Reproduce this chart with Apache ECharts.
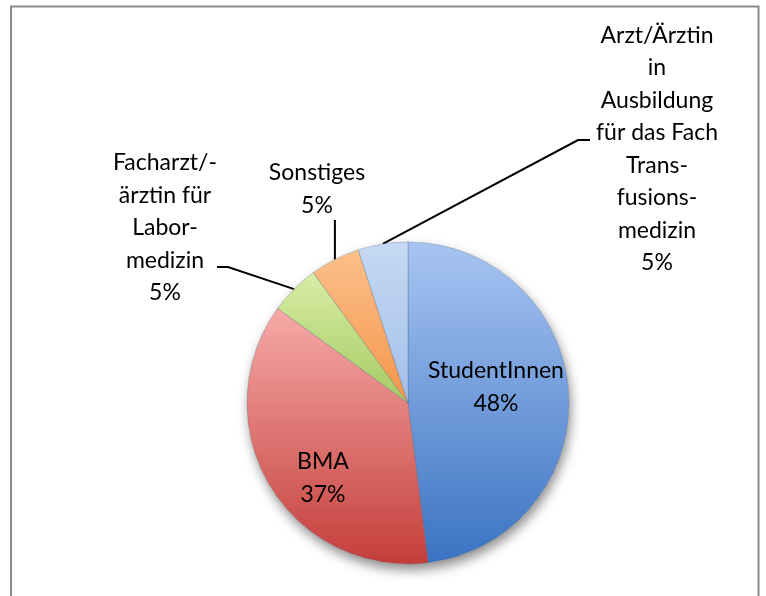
<!DOCTYPE html>
<html>
<head>
<meta charset="utf-8">
<script src="https://cdn.jsdelivr.net/npm/echarts@6/dist/echarts.min.js"></script>
<style>
  html, body { margin: 0; padding: 0; background: #fff; }
  #chart { width: 766px; height: 596px; }
</style>
</head>
<body>
<div id="chart"></div>
<script>
// ---- data ----
var categories = [
  'StudentInnen',
  'BMA',
  'Facharzt/-\närztin für\nLabor-\nmedizin',
  'Sonstiges',
  'Arzt/Ärztin\nin\nAusbildung\nfür das Fach\nTrans-\nfusions-\nmedizin'
];
var values = [48, 37, 5, 5, 5];

// ---- styles ----
var gradients = [
  ['#a8c5f2', '#3a73c2'],
  ['#f6aaa7', '#c43e3b'],
  ['#d8eda6', '#a6ca62'],
  ['#fcc08a', '#f5954a'],
  ['#c6d9f4', '#a3bfe9']
];
// label anchor (center of text block) and leader line elbow/end, in px
var labelPlace = [
  { x: 496, y: 387 },
  { x: 323, y: 478 },
  { x: 165, y: 228, elbow: [228, 267], end: [217, 267] },
  { x: 317, y: 189, elbow: 'vertical', endY: 220 },
  { x: 657, y: 149, elbow: [578, 140], end: [590, 140] }
];

var chart = echarts.init(document.getElementById('chart'), null, { renderer: 'canvas' });

var center = [408, 403];
var radius = 161;

var data = categories.map(function (c, i) {
  var inside = i < 2;
  return {
    name: c,
    value: values[i],
    itemStyle: {
      color: {
        type: 'linear', x: 0, y: 0, x2: 0, y2: 1,
        colorStops: [
          { offset: 0, color: gradients[i][0] },
          { offset: 1, color: gradients[i][1] }
        ]
      }
    },
    label: { position: inside ? 'inside' : 'outside' },
    labelLine: { show: !inside }
  };
});

var option = {
  backgroundColor: '#ffffff',
  animation: false,
  graphic: [{
    type: 'rect',
    shape: { x: 11, y: 6.5, width: 747.5, height: 640 },
    style: { fill: 'none', stroke: '#8a8a8a', lineWidth: 2 },
    z: 0
  }],
  series: [
    {
      // shadow backdrop
      type: 'pie',
      silent: true,
      center: center,
      radius: radius,
      startAngle: 90,
      label: { show: false },
      labelLine: { show: false },
      itemStyle: {
        color: '#ffffff',
        shadowBlur: 12,
        shadowOffsetY: 6,
        shadowOffsetX: 2,
        shadowColor: 'rgba(0,0,0,0.45)'
      },
      data: [{ value: 1, name: '' }],
      z: 1
    },
    {
      type: 'pie',
      center: center,
      radius: radius,
      startAngle: 90,
      clockwise: true,
      avoidLabelOverlap: false,
      z: 2,
      itemStyle: {
        borderColor: 'rgba(60,80,110,0.35)',
        borderWidth: 0.8
      },
      label: {
        show: true,
        color: '#000000',
        fontFamily: 'Lato',
        fontSize: 23,
        lineHeight: 32.5,
        align: 'center',
        formatter: function (p) { return p.name + '\n' + p.value + '%'; }
      },
      labelLine: {
        show: true,
        lineStyle: { color: '#000000', width: 2 }
      },
      labelLayout: function (params) {
        var i = params.dataIndex;
        var pl = labelPlace[i];
        var res = { x: pl.x, y: pl.y, align: 'center', verticalAlign: 'middle' };
        if (i >= 2) {
          var a = params.labelLinePoints && params.labelLinePoints[0];
          if (a) {
            if (pl.elbow === 'vertical') {
              res.labelLinePoints = [[a[0], a[1]], [a[0], pl.endY], [a[0], pl.endY]];
            } else {
              res.labelLinePoints = [[a[0], a[1]], pl.elbow, pl.end];
            }
          }
        }
        return res;
      },
      data: data
    }
  ]
};

chart.setOption(option);
</script>
</body>
</html>
